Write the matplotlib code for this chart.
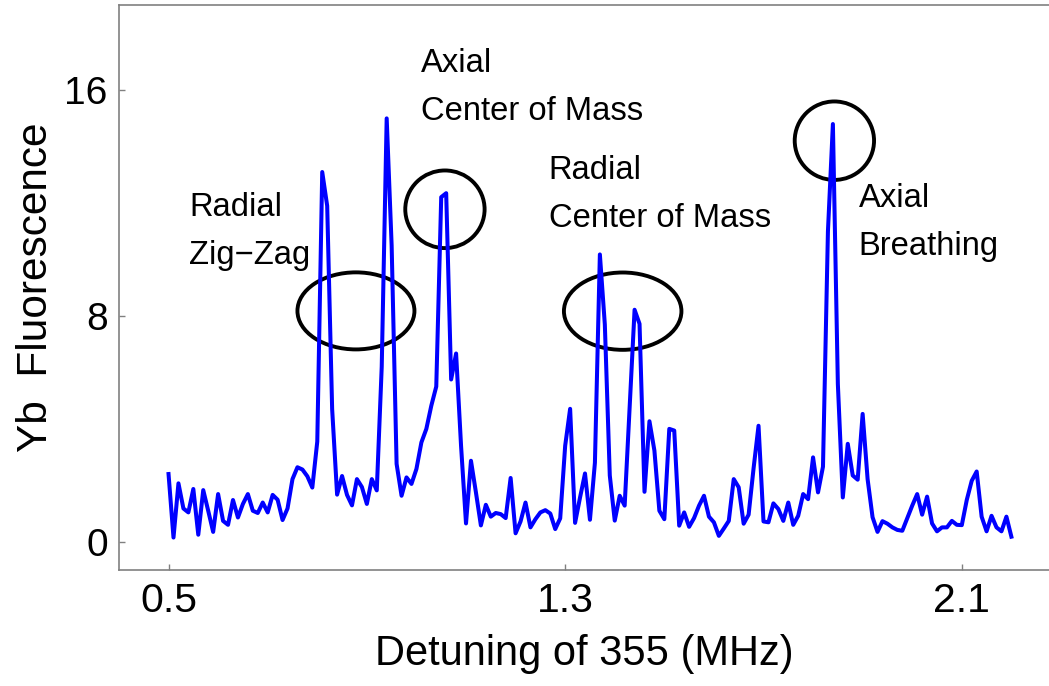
import numpy as np
import matplotlib
matplotlib.use('Agg')
import matplotlib.pyplot as plt
from matplotlib.patches import Ellipse

plt.rcParams['font.family'] = ['Liberation Sans', 'DejaVu Sans']

# detuning step of 0.01 MHz starting at 0.5 MHz
detuning = 0.5 + 0.01 * np.arange(171)
fluorescence = [
    2.40, 0.15, 2.07, 1.18, 1.04, 1.87, 0.25, 1.83, 1.10, 0.35,
    1.69, 0.74, 0.60, 1.48, 0.86, 1.34, 1.69, 1.10, 1.02, 1.39,
    1.04, 1.66, 1.49, 0.77, 1.18, 2.22, 2.64, 2.56, 2.32, 1.92,
    3.55, 13.1, 11.9, 4.70, 1.67, 2.33, 1.66, 1.29, 2.22, 1.94,
    1.34, 2.22, 1.82, 6.20, 15.0, 10.5, 2.76, 1.63, 2.28, 2.05,
    2.58, 3.52, 4.00, 4.82, 5.50, 12.21, 12.35, 5.75, 6.67, 3.40,
    0.65, 2.87, 1.75, 0.58, 1.31, 0.89, 1.02, 0.98, 0.84, 2.26,
    0.30, 0.72, 1.39, 0.51, 0.80, 1.04, 1.12, 1.00, 0.45, 0.83,
    3.40, 4.71, 0.67, 1.57, 2.42, 0.78, 2.80, 10.18, 7.70, 2.35,
    0.75, 1.63, 1.28, 4.76, 8.22, 7.72, 1.77, 4.27, 3.23, 1.10,
    0.80, 4.00, 3.94, 0.57, 1.04, 0.53, 0.84, 1.28, 1.63, 0.89,
    0.69, 0.21, 0.47, 0.74, 2.22, 1.93, 0.64, 0.96, 2.60, 4.11,
    0.72, 0.69, 1.36, 1.16, 0.74, 1.39, 0.60, 0.92, 1.69, 1.51,
    2.99, 1.75, 2.66, 11.0, 14.8, 5.59, 1.57, 3.47, 2.35, 2.20,
    4.53, 2.22, 0.87, 0.35, 0.73, 0.64, 0.51, 0.42, 0.39, 0.83,
    1.28, 1.69, 0.96, 1.60, 0.65, 0.37, 0.51, 0.51, 0.74, 0.60,
    0.59, 1.48, 2.16, 2.49, 0.89, 0.37, 0.92, 0.51, 0.37, 0.89,
    0.18,
]

x_ticks = [0.5, 1.3, 2.1]
y_ticks = [0, 8, 16]

# mode labels and circled peaks
labels = ["Radial\nZig\u2212Zag", "Axial\nCenter of Mass",
          "Radial\nCenter of Mass", "Axial\nBreathing"]
label_pos = [(0.542, 11.0), (1.010, 16.1), (1.2665, 12.3), (1.892, 11.3)]
circles = [(0.878, 8.18, 0.236, 2.73), (1.0575, 11.78, 0.160, 2.75),
           (1.416, 8.17, 0.237, 2.74), (1.843, 14.21, 0.160, 2.78)]

fig = plt.figure(figsize=(10.49, 6.86), dpi=100)
ax = fig.add_axes([0.1134, 0.1691, 0.8876, 0.8229])

ax.plot(detuning, fluorescence, color='#0000ff', lw=2.9)

for (cx, cy, w, h) in circles:
    ax.add_patch(Ellipse((cx, cy), w, h, fill=False, edgecolor='black', lw=2.8))

for text, (tx, ty) in zip(labels, label_pos):
    ax.text(tx, ty, text, fontsize=23.6, ha='left', va='center', linespacing=1.7)

ax.set_xlim(0.4, 2.278)
ax.set_ylim(-1, 19)
ax.set_xticks(x_ticks)
ax.set_xticklabels(['0.5', '1.3', '2.1'])
ax.set_yticks(y_ticks)
ax.tick_params(axis='x', direction='in', length=4, width=1, color='#808080',
               labelsize=29.5, pad=9)
ax.tick_params(axis='y', direction='in', length=4, width=1, color='#808080',
               labelsize=28, pad=8)
for side in ['left', 'bottom', 'top']:
    ax.spines[side].set_color('#808080')
    ax.spines[side].set_linewidth(1.2)
ax.spines['right'].set_visible(False)

ax.set_xlabel('Detuning of 355 (MHz)', fontsize=30, labelpad=10)
ax.set_ylabel('Yb  Fluorescence', fontsize=30.5, labelpad=6)

fig.savefig('out.png', dpi=100)
